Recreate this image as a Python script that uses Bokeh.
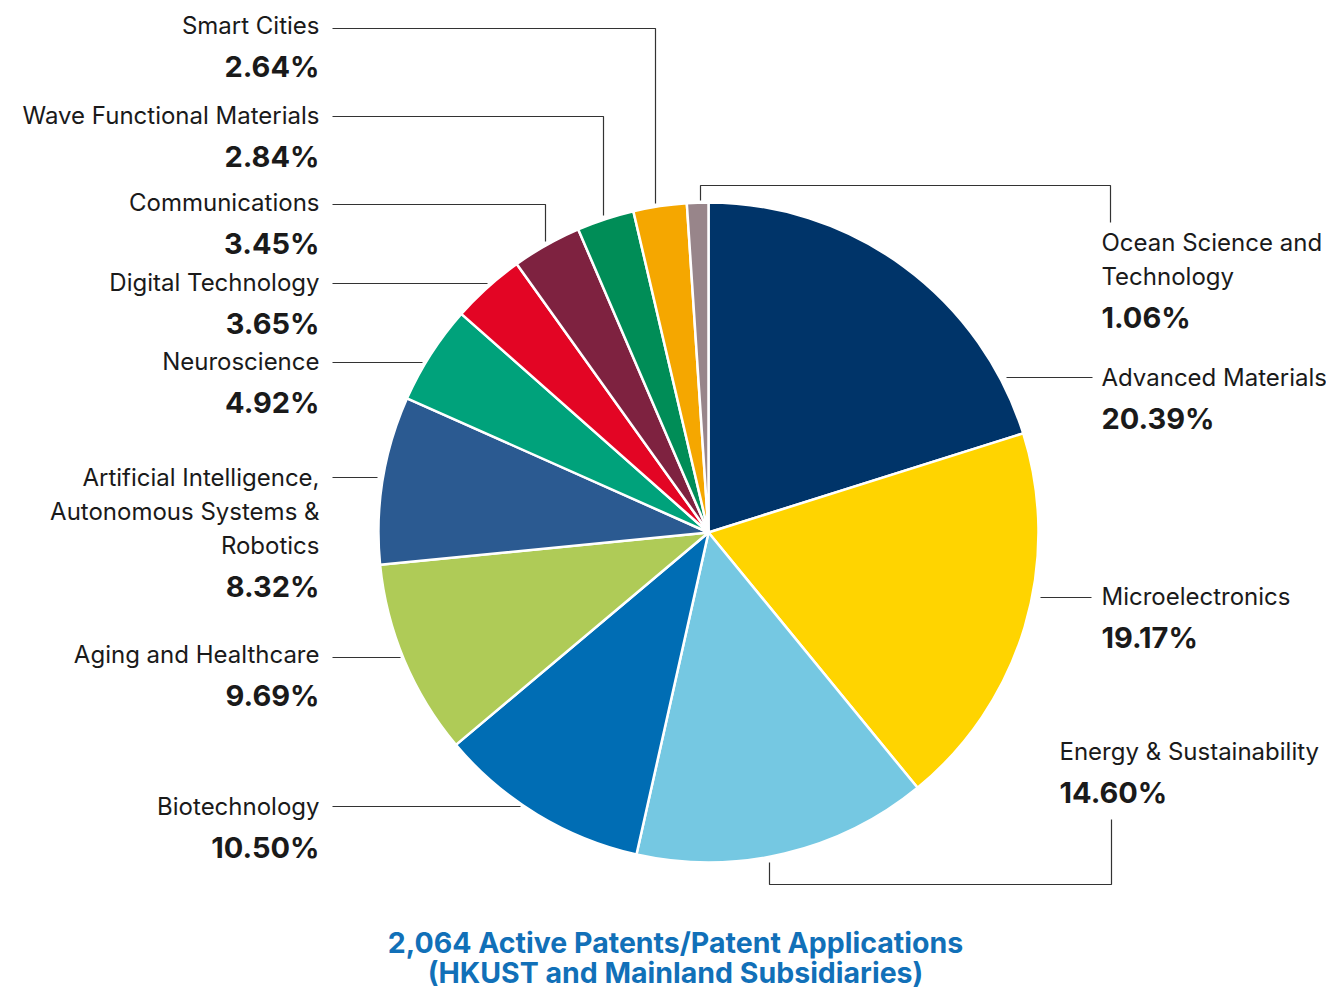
import math
from bokeh.plotting import figure
from bokeh.models import Range1d
from bokeh.core.properties import value
from bokeh.embed import file_html
from bokeh.resources import INLINE

# ---------------- data ----------------
categories = ["Advanced Materials", "Microelectronics", "Energy & Sustainability",
              "Biotechnology", "Aging and Healthcare",
              "Artificial Intelligence, Autonomous Systems & Robotics",
              "Neuroscience", "Digital Technology", "Communications",
              "Wave Functional Materials", "Smart Cities", "Ocean Science and Technology"]
shares = [20.39, 19.17, 14.60, 10.50, 9.69, 8.32, 4.92, 3.65, 3.45, 2.84, 2.64, 1.06]
colors = ["#003469", "#FFD400", "#75C8E2", "#006DB4", "#AFCB57", "#2B5A91",
          "#00A27B", "#E30524", "#7E2240", "#008D57", "#F5A700", "#98858A"]
label_lines = [["Advanced Materials"], ["Microelectronics"], ["Energy & Sustainability"],
               ["Biotechnology"], ["Aging and Healthcare"],
               ["Artificial Intelligence,", "Autonomous Systems &", "Robotics"],
               ["Neuroscience"], ["Digital Technology"], ["Communications"],
               ["Wave Functional Materials"], ["Smart Cities"],
               ["Ocean Science and", "Technology"]]
title_lines = ["2,064 Active Patents/Patent Applications", "(HKUST and Mainland Subsidiaries)"]

# ---------------- layout (image pixel coords, y down) ----------------
H = 1008
CX, CY, R = 708, 532, 330
label_pos = [(1101, 377, "left"), (1101, 596, "left"), (1059, 751, "left"),
             (319, 806, "right"), (319, 654, "right"), (319, 477, "right"),
             (319, 361, "right"), (319, 282, "right"), (319, 202, "right"),
             (319, 115, "right"), (319, 25, "right"), (1101, 242, "left")]
leaders = [
    [(1006, 377), (1092, 377)],
    [(1040, 597), (1091, 597)],
    [(769, 862), (769, 884), (1111, 884), (1111, 819)],
    [(332, 806), (520, 806)],
    [(332, 657), (400, 657)],
    [(332, 477), (377, 477)],
    [(332, 362), (422, 362)],
    [(332, 283), (487, 283)],
    [(332, 204), (545, 204), (545, 241)],
    [(332, 116), (603, 116), (603, 215)],
    [(332, 28), (655, 28), (655, 203)],
    [(700, 200), (700, 185), (1110, 185), (1110, 222)],
]
LINE_GAP = 34
PCT_GAP = 41
TITLE_Y = [942, 972]

p = figure(width=1326, height=992, output_backend="svg", toolbar_location=None,
           x_range=Range1d(0, 1326), y_range=Range1d(H - 992, H),
           min_border=0, outline_line_color=None)
p.axis.visible = False
p.grid.visible = False
p.background_fill_color = "white"

# wedges
total = sum(shares)
starts, ends = [], []
acc = 0.0
for s in shares:
    starts.append(math.pi / 2 - 2 * math.pi * acc / total)
    acc += s
    ends.append(math.pi / 2 - 2 * math.pi * acc / total)
p.wedge(x=CX, y=H - CY, radius=R, start_angle=starts, end_angle=ends,
        direction="clock", fill_color=colors, line_color="white", line_width=2.5)

# leader lines
p.multi_line(xs=[[pt[0] for pt in l] for l in leaders],
             ys=[[H - pt[1] for pt in l] for l in leaders],
             line_color="#333333", line_width=1.2)

# labels
for lines, s, (lx, ly, al) in zip(label_lines, shares, label_pos):
    ys = [H - (ly + i * LINE_GAP) for i in range(len(lines))]
    p.text(x=[lx] * len(lines), y=ys, text=lines, text_align=al,
           text_baseline="middle", text_font=value("Inter"),
           text_font_size="24px", text_color="#1a1a1a")
    py = ly + (len(lines) - 1) * LINE_GAP + PCT_GAP
    p.text(x=[lx], y=[H - py], text=[f"{s:.2f}%"], text_align=al,
           text_baseline="middle", text_font=value("Inter"),
           text_font_size="29px", text_font_style="bold", text_color="#1a1a1a")

# title
p.text(x=[675, 675], y=[H - TITLE_Y[0], H - TITLE_Y[1]], text=title_lines,
       text_align="center", text_baseline="middle", text_font=value("Inter"),
       text_font_size="28.5px", text_font_style="bold", text_color="#1170B8")

open("out.html", "w").write(file_html(p, INLINE))
